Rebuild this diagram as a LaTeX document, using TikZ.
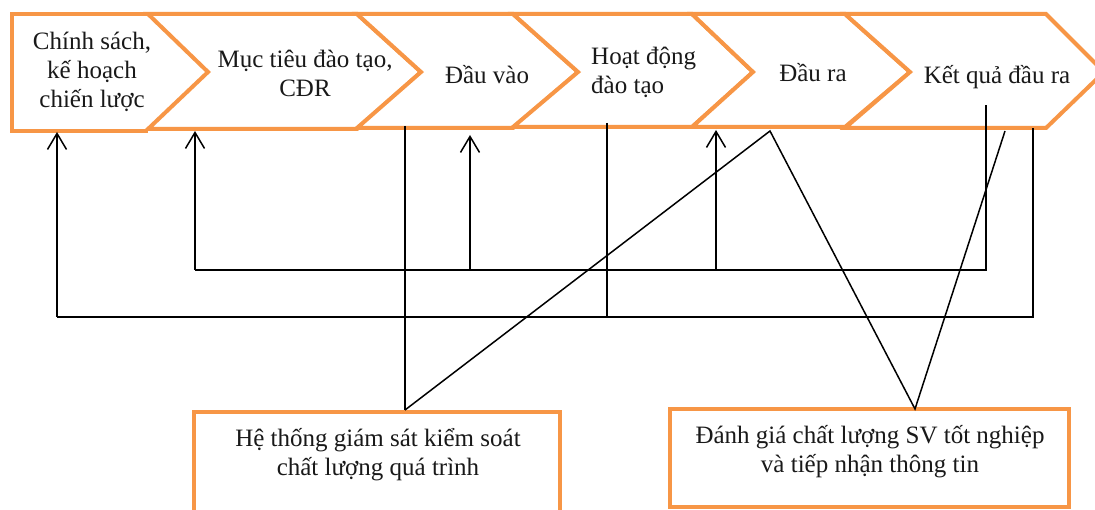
\documentclass[tikz,border=0pt]{standalone}
\usepackage{fontspec}
\setmainfont{Liberation Serif}
\usetikzlibrary{arrows.meta}
\definecolor{boxorange}{HTML}{F79646}
\begin{document}
\begin{tikzpicture}[x=1pt,y=-1pt,
  chev/.style={draw=boxorange,line width=4pt,line join=miter,fill=white},
  lbl/.style={font=\fontsize{25}{29}\selectfont,align=center,inner sep=0pt,text=black!90},
  conn/.style={draw=black,line width=1.5pt},
  uparrow/.style={conn,-{Straight Barb[length=16pt,width=19pt,line width=1.5pt]}}]
\clip (0,0) rectangle (1095,510);
\fill[white] (0,0) rectangle (1095,510);
% chevron process
\draw[chev] (148,14) -- (12,14) -- (12,131) -- (148,131);
\draw[chev] (148,14) -- (357,14) -- (421,72) -- (357,129) -- (148,129) -- (208,72) -- cycle;
\draw[chev] (357,14) -- (513,14) -- (578,72) -- (513,128) -- (357,128) -- (421,72) -- cycle;
\draw[chev] (513,14) -- (692,14) -- (753,72) -- (692,127) -- (513,127) -- (578,72) -- cycle;
\draw[chev] (692,14) -- (845,14) -- (910,72) -- (845,127) -- (692,127) -- (753,72) -- cycle;
\draw[chev] (845,14) -- (1046,14) -- (1104,72) -- (1046,128) -- (845,128) -- (910,72) -- cycle;
\node[lbl] (t1) at (92,72) {Chính sách,\\kế hoạch\\chiến lược};
\node[lbl] (t2) at (305,73) {Mục tiêu đào tạo,\\CĐR};
\node[lbl] (t3) at (487,75) {Đầu vào};
\node[lbl,align=left,anchor=west] (t4) at (591,72) {Hoạt động\\đào tạo};
\node[lbl] (t5) at (813,73) {Đầu ra};
\node[lbl] (t6) at (997,77) {Kết quả đầu ra};
% bottom boxes
\draw[chev,line width=4.5pt] (194,530) -- (194,412) -- (560,412) -- (560,530);
\node[lbl] (b1) at (378,455) {Hệ thống giám sát kiểm soát\\chất lượng quá trình};
\draw[chev,line width=4.5pt] (670,409) rectangle (1069,507);
\node[lbl] (b2) at (870,452) {Đánh giá chất lượng SV tốt nghiệp\\và tiếp nhận thông tin};
% junction coordinates
\coordinate (p1) at (57,317);
\coordinate (q1) at (57,132);
\coordinate (p2) at (195,270);
\coordinate (q2) at (195,131);
\coordinate (p3) at (470,270);
\coordinate (q3) at (470,135);
\coordinate (p4) at (716,270);
\coordinate (q4) at (716,130);
\coordinate (r1) at (986,270);
\coordinate (s1) at (986,105);
\coordinate (r2) at (1033,317);
\coordinate (s2) at (1033,128);
\coordinate (v1a) at (405,126);
\coordinate (v1b) at (405,410);
\coordinate (v2a) at (607,123);
\coordinate (v2b) at (607,316);
\coordinate (apex) at (770,131);
\coordinate (vb) at (915,409);
\coordinate (top6) at (1005,131);
% connectors
\draw[conn] (p2) -- (r1) -- (s1);
\draw[conn] (p1) -- (r2) -- (s2);
\draw[uparrow] (p1) -- (q1);
\draw[uparrow] (p2) -- (q2);
\draw[uparrow] (p3) -- (q3);
\draw[uparrow] (p4) -- (q4);
\draw[conn] (v1a) -- (v1b);
\draw[conn] (v2a) -- (v2b);
\draw[conn,line join=miter] (v1b) -- (apex) -- (vb) -- (top6);
\end{tikzpicture}
\end{document}
